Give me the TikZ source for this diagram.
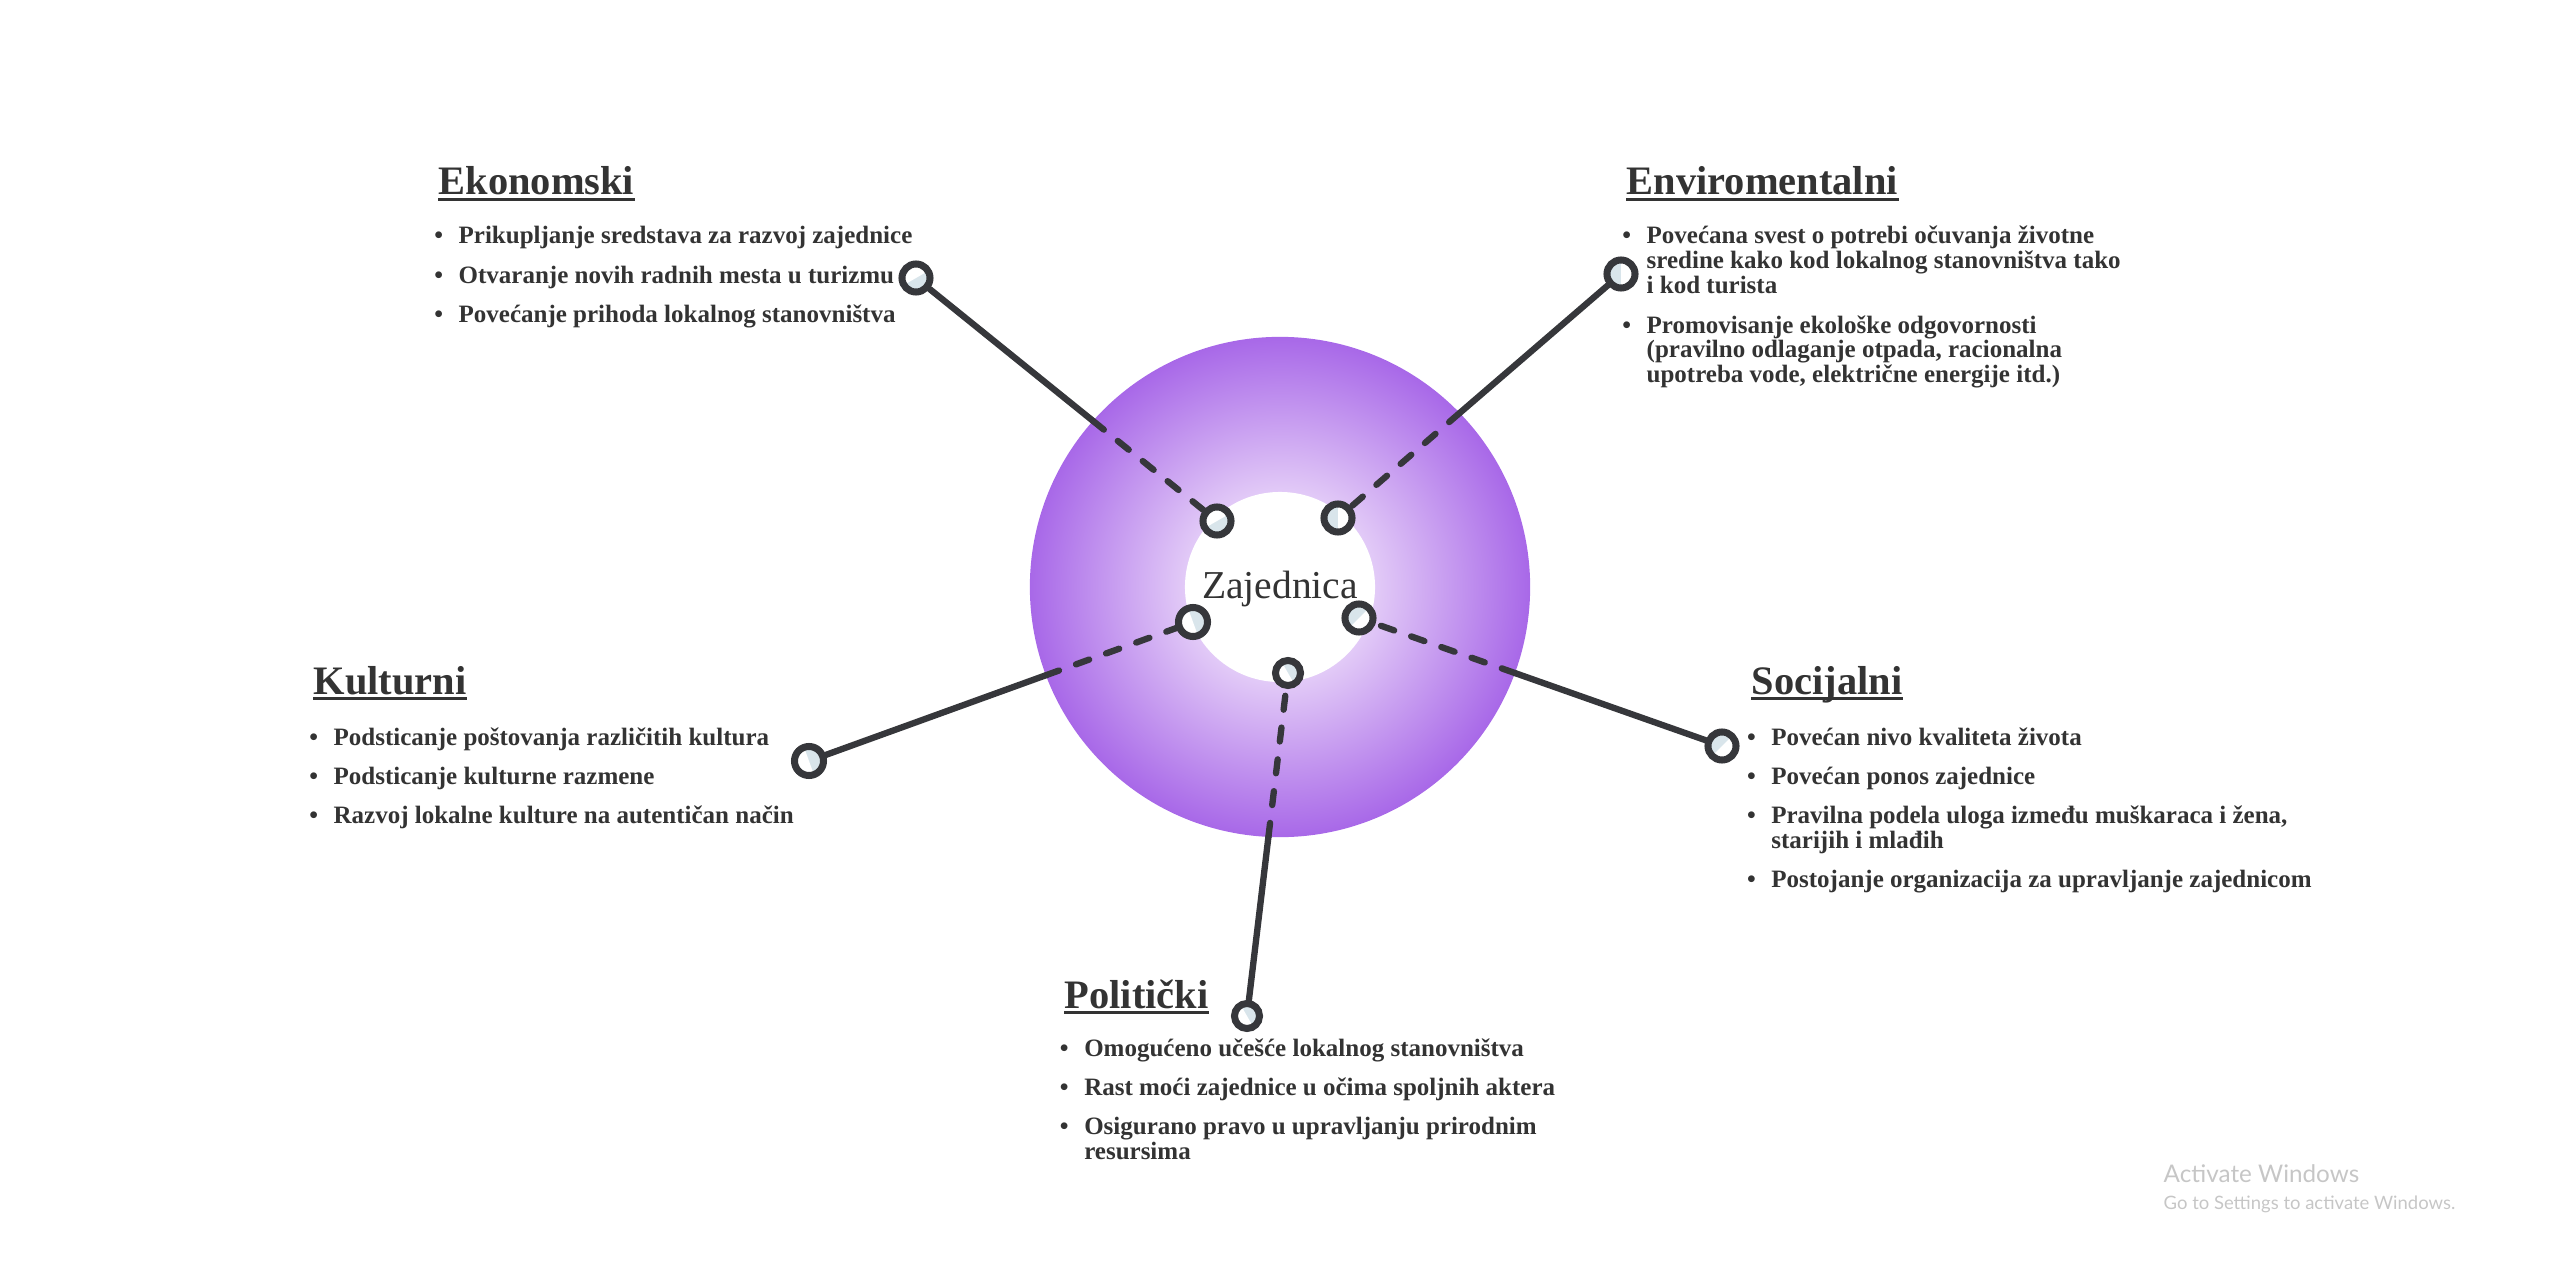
\documentclass[tikz,border=0pt]{standalone}
\usepackage{fontspec}
\setmainfont{Liberation Serif}
\newfontfamily\wmfont{Lato}
\usetikzlibrary{calc,intersections}
\definecolor{ink}{HTML}{36373B}
\definecolor{txt}{HTML}{333333}
\definecolor{pale}{HTML}{D9E5EB}
\definecolor{ringin}{HTML}{E2CAF7}
\definecolor{ringout}{HTML}{A868E8}
\definecolor{wm}{HTML}{C6C6C6}
\pgfdeclareradialshading{ringshade}{\pgfpoint{0bp}{0bp}}{color(0bp)=(ringin); color(9.5bp)=(ringin); color(25bp)=(ringout); color(50bp)=(ringout)}
\newcommand\bul{\textbullet&}
\newcommand\nxt{\\[4.13pt]}

\begin{document}
\begin{tikzpicture}[x=0.01cm,y=-0.01cm,
  head/.style={anchor=base west,inner sep=0,text=txt,font=\fontsize{11.5pt}{12pt}\selectfont\bfseries},
  list/.style={anchor=base west,inner sep=0,text=txt,font=\fontsize{7.11pt}{6.97pt}\selectfont\bfseries},
  uline/.style={txt,line width=0.95pt},
  knob/.style={circle,draw=ink,line width=2pt,fill=pale,minimum size=0.28cm,inner sep=0,
    path picture={\fill[white] (path picture bounding box.center) -- ++(#1-90:0.3cm)
      arc[start angle=#1-90,delta angle=180,radius=0.3cm] -- cycle;}},
  wire/.style={ink,line width=1.8pt,line cap=round},
  inring/.style={dash pattern=on 0.14cm off 0.18cm}]

\useasboundingbox (0,0) rectangle (2559,1282);

% the community ring
\coordinate (hub) at (1280,587);
\shade[shading=ringshade,name path=ring] (hub) circle (2.5cm);
\fill[white] (hub) circle (0.95cm);
\node[anchor=base,inner sep=0,text=txt,font=\fontsize{11.24pt}{12pt}\selectfont] (hubt) at (1280,598) {Zajednica};

% end points of the five spokes
\node[knob=120] (ek-o) at (916,278) {};
\node[knob=120] (ek-i) at (1217,521) {};
\node[knob=0] (en-o) at (1621,274) {};
\node[knob=0] (en-i) at (1338,518) {};
\node[knob=200,minimum size=0.29cm] (ku-o) at (809,761) {};
\node[knob=200,minimum size=0.29cm] (ku-i) at (1193,622) {};
\node[knob=-45] (so-o) at (1722,746) {};
\node[knob=-45] (so-i) at (1359,618) {};
\node[knob=210,minimum size=0.25cm] (po-o) at (1247,1016) {};
\node[knob=210,minimum size=0.25cm] (po-i) at (1288,673) {};

% solid outside the ring, dashed across it
\foreach \n in {ek,en,ku,so,po}{
  \path[name path=cut] (\n-o) -- (\n-i);
  \path[name intersections={of=ring and cut,by=cx}];
  \draw[wire] (\n-o) -- (cx);
  \draw[wire,inring] (cx) -- (\n-i);
}

% headings
\node[head] (ek-h) at (438,195)  {Ekonomski};
\node[head] (en-h) at (1626,195) {Enviromentalni};
\node[head] (ku-h) at (313,694)  {Kulturni};
\node[head] (so-h) at (1751,694) {Socijalni};
\node[head] (po-h) at (1064,1008) {Politički};
\foreach \n in {ek,en,ku,so,po}
  \draw[uline] ($(\n-h.base west)+(0,4.5)$) -- ($(\n-h.base east)+(0,4.5)$);

% bullet lists
\node[list] (ek-l) at (433.6,244) {\begin{tabular}[t]{@{}l@{\hspace{4.44pt}}l@{}}
  \bul Prikupljanje sredstava za razvoj zajednice\nxt
  \bul Otvaranje novih radnih mesta u turizmu\nxt
  \bul Povećanje prihoda lokalnog stanovništva
\end{tabular}};
\node[list] (en-l) at (1621.6,244) {\begin{tabular}[t]{@{}l@{\hspace{4.44pt}}l@{}}
  \bul Povećana svest o potrebi očuvanja životne\\
  & sredine kako kod lokalnog stanovništva tako\\
  & i kod turista\nxt
  \bul Promovisanje ekološke odgovornosti\\
  & (pravilno odlaganje otpada, racionalna\\
  & upotreba vode, električne energije itd.)
\end{tabular}};
\node[list] (ku-l) at (308.6,745) {\begin{tabular}[t]{@{}l@{\hspace{4.44pt}}l@{}}
  \bul Podsticanje poštovanja različitih kultura\nxt
  \bul Podsticanje kulturne razmene\nxt
  \bul Razvoj lokalne kulture na autentičan način
\end{tabular}};
\node[list] (so-l) at (1746.3,745) {\begin{tabular}[t]{@{}l@{\hspace{4.44pt}}l@{}}
  \bul Povećan nivo kvaliteta života\nxt
  \bul Povećan ponos zajednice\nxt
  \bul Pravilna podela uloga između muškaraca i žena,\\
  & starijih i mlađih\nxt
  \bul Postojanje organizacija za upravljanje zajednicom
\end{tabular}};
\node[list] (po-l) at (1059.2,1056) {\begin{tabular}[t]{@{}l@{\hspace{4.44pt}}l@{}}
  \bul Omogućeno učešće lokalnog stanovništva\nxt
  \bul Rast moći zajednice u očima spoljnih aktera\nxt
  \bul Osigurano pravo u upravljanju prirodnim\\
  & resursima
\end{tabular}};

% screen overlay
\node[anchor=base west,inner sep=0,text=wm,font=\wmfont\fontsize{6.9pt}{8pt}\selectfont] (wm1) at (2163,1182) {Activate Windows};
\node[anchor=base west,inner sep=0,text=wm,font=\wmfont\fontsize{5.25pt}{6pt}\selectfont] (wm2) at (2163,1209) {Go to Settings to activate Windows.};
\end{tikzpicture}
\end{document}
